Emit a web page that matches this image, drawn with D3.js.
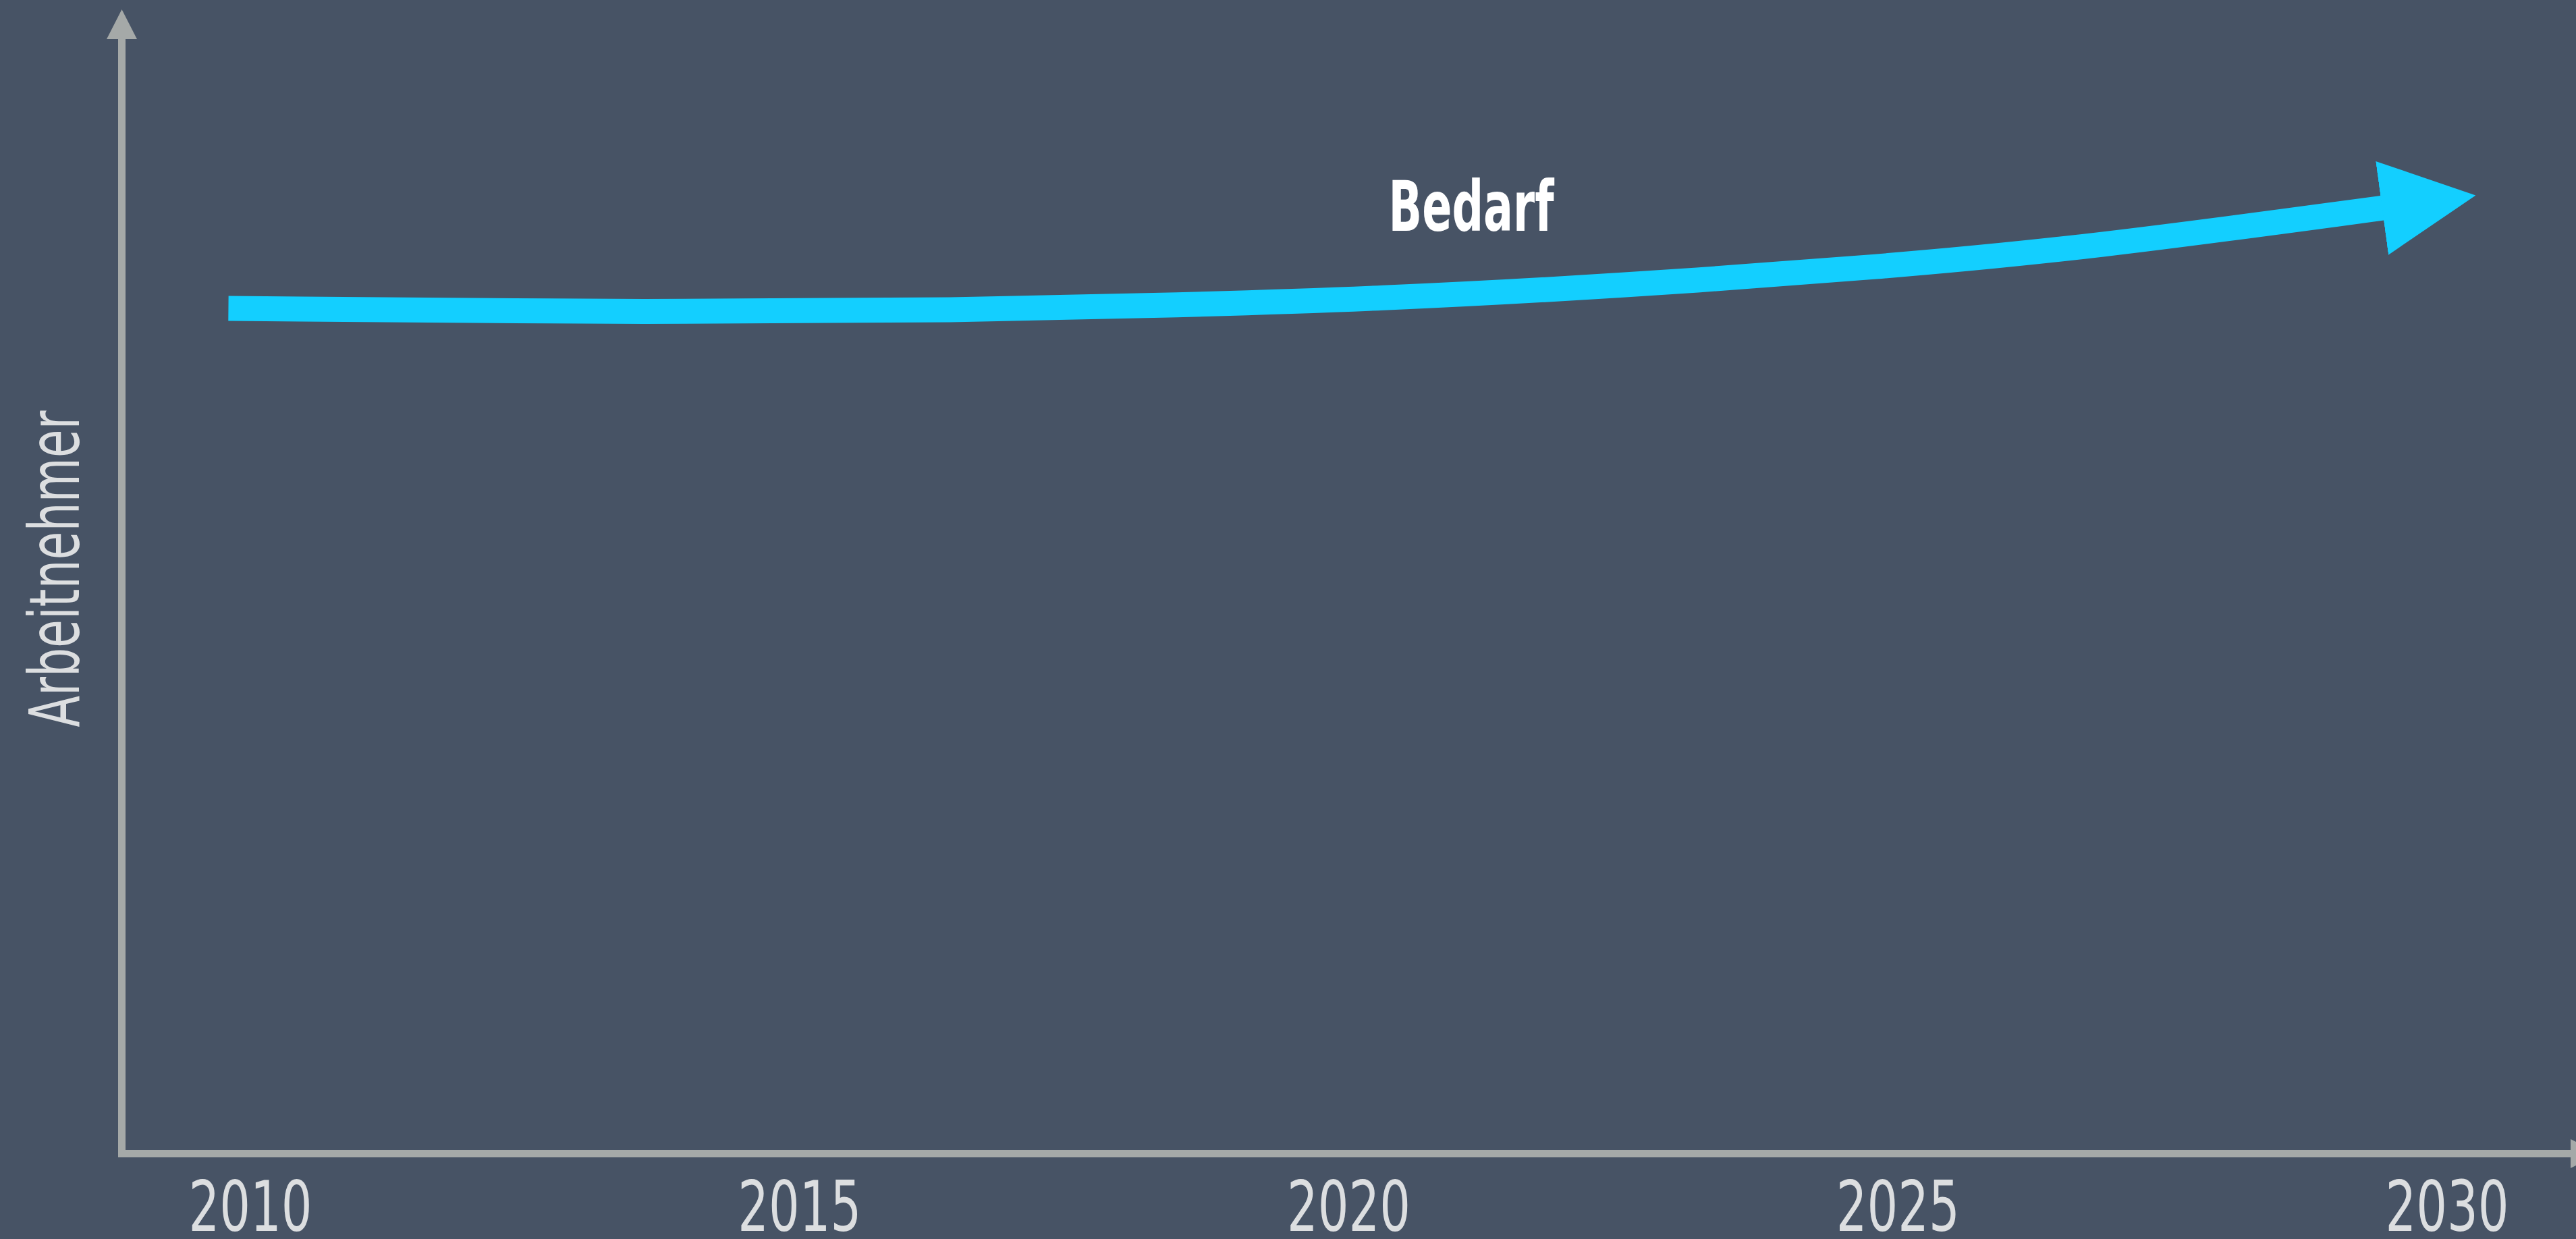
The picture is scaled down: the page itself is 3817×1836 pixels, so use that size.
<!DOCTYPE html>
<html>
<head>
<meta charset="utf-8">
<script src="https://cdn.jsdelivr.net/npm/d3@7"></script>
<style>
  html, body { margin: 0; padding: 0; background: #475365; overflow: hidden; }
  svg { display: block; }
</style>
</head>
<body>
<script>
// ---- data ----
const tickYears = [2010, 2015, 2020, 2025, 2030];
const tickLabels = ["2010", "2015", "2020", "2025", "2030"];
const bedarfYears = [2009.8, 2013.81, 2016.48, 2018.47, 2020.25, 2022.45, 2024.9, 2026.73, 2029.42];
const bedarfValues = [73.87, 73.52, 73.70, 74.17, 74.70, 75.82, 77.53, 79.18, 82.66];
const seriesLabel = "Bedarf";
const yAxisTitle = "Arbeitnehmer";

// ---- layout ----
const W = 3817, H = 1836;
const FONT = "'DejaVu Sans Condensed', 'DejaVu Sans', sans-serif";
const axisColor = "#a5a9a8";
const textColor = "#dcdee0";
const lineColor = "#13cfff";

const x = d3.scaleLinear().domain([2010, 2030]).range([371, 3626]);
const y = d3.scaleLinear().domain([0, 100]).range([1709.5, 14]);

const svg = d3.select("body").append("svg").attr("width", W).attr("height", H);
svg.append("rect").attr("width", W).attr("height", H).attr("fill", "#475365");

const defs = svg.append("defs");
defs.append("marker")
  .attr("id", "head")
  .attr("markerUnits", "userSpaceOnUse")
  .attr("viewBox", "0 -70 140 140")
  .attr("refX", 2).attr("refY", 0)
  .attr("markerWidth", 140).attr("markerHeight", 140)
  .attr("orient", "auto")
  .append("path").attr("d", "M0,-70L140,0L0,70Z").attr("fill", lineColor);

// axes
const x0 = 180.5, yBase = 1709.5;
svg.append("line").attr("x1", x0).attr("x2", x0).attr("y1", yBase + 5.5).attr("y2", 55)
  .attr("stroke", axisColor).attr("stroke-width", 11);
svg.append("path").attr("d", `M${x0},14L${x0 + 22.5},58L${x0 - 22.5},58Z`).attr("fill", axisColor);
svg.append("line").attr("x1", 178).attr("x2", 3812).attr("y1", yBase).attr("y2", yBase)
  .attr("stroke", axisColor).attr("stroke-width", 11);
svg.append("path").attr("d", `M3809,${yBase - 21.5}L3853,${yBase}L3809,${yBase + 21.5}Z`).attr("fill", axisColor);

// tick labels
svg.append("g").selectAll("text").data(tickYears).join("text")
  .attr("x", d => x(d)).attr("y", 1824)
  .attr("text-anchor", "middle")
  .attr("font-family", FONT).attr("font-size", 104)
  .attr("textLength", 183).attr("lengthAdjust", "spacingAndGlyphs")
  .attr("fill", textColor)
  .text((d, i) => tickLabels[i]);

// y axis title
svg.append("text")
  .attr("transform", "translate(117,843) rotate(-90)")
  .attr("text-anchor", "middle")
  .attr("font-family", FONT).attr("font-size", 104)
  .attr("textLength", 469).attr("lengthAdjust", "spacingAndGlyphs")
  .attr("fill", textColor)
  .text(yAxisTitle);

// series line
const pts = bedarfYears.map((yr, i) => [yr, bedarfValues[i]]);
const line = d3.line().x(d => x(d[0])).y(d => y(d[1])).curve(d3.curveBasis);
svg.append("path").attr("d", line(pts))
  .attr("fill", "none").attr("stroke", lineColor).attr("stroke-width", 37)
  .attr("marker-end", "url(#head)");

// series label
svg.append("text")
  .attr("x", 2180).attr("y", 342)
  .attr("text-anchor", "middle")
  .attr("font-family", FONT).attr("font-size", 104).attr("font-weight", "bold")
  .attr("textLength", 245).attr("lengthAdjust", "spacingAndGlyphs")
  .attr("fill", "#ffffff")
  .text(seriesLabel);
</script>
</body>
</html>
